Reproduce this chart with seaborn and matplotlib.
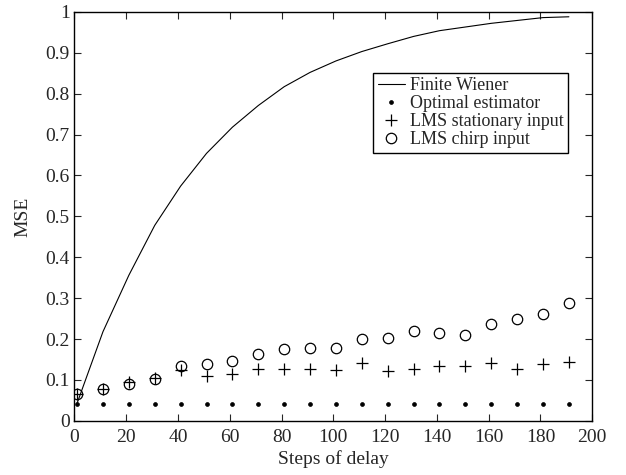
import pandas as pd
import matplotlib
matplotlib.use('Agg')
import matplotlib.pyplot as plt
import seaborn as sns

# Set seaborn style
sns.set_style('ticks')
plt.rcParams['font.family'] = ['Liberation Serif', 'DejaVu Serif']
plt.rcParams['xtick.direction'] = 'in'
plt.rcParams['ytick.direction'] = 'in'

# Data
delay = [1, 11, 21, 31, 41, 51, 61, 71, 81, 91,
         101, 111, 121, 131, 141, 151, 161, 171, 181, 191]
finite_wiener = [0.043, 0.218, 0.356, 0.478, 0.574, 0.654, 0.718, 0.771, 0.817, 0.852,
                 0.880, 0.903, 0.922, 0.940, 0.954, 0.963, 0.972, 0.979, 0.986, 0.988]
optimal = [0.04] * 20
lms_stationary = [0.065, 0.079, 0.094, 0.105, 0.124, 0.110, 0.114, 0.128, 0.128, 0.128,
                  0.124, 0.142, 0.123, 0.128, 0.135, 0.135, 0.141, 0.128, 0.138, 0.144]
lms_chirp = [0.065, 0.078, 0.091, 0.103, 0.135, 0.138, 0.146, 0.164, 0.175, 0.178,
             0.178, 0.200, 0.203, 0.220, 0.215, 0.210, 0.236, 0.248, 0.261, 0.287]

df = pd.DataFrame({
    'delay': delay,
    'wiener': finite_wiener,
    'optimal': optimal,
    'stationary': lms_stationary,
    'chirp': lms_chirp,
})

fig = plt.figure(figsize=(6.26, 4.75), dpi=100)
ax = fig.add_axes([0.119, 0.114, 0.827, 0.861])

sns.lineplot(data=df, x='delay', y='wiener', ax=ax, color='black',
             linewidth=0.8, label='Finite Wiener')
sns.lineplot(data=df, x='delay', y='optimal', ax=ax, color='black',
             linestyle='none', marker='o', markersize=2.8, markeredgecolor='black',
             markeredgewidth=0.5, label='Optimal estimator')
sns.lineplot(data=df, x='delay', y='stationary', ax=ax, color='black',
             linestyle='none', marker='+', markersize=8, markeredgecolor='black',
             markeredgewidth=0.9, label='LMS stationary input')
sns.lineplot(data=df, x='delay', y='chirp', ax=ax, color='black',
             linestyle='none', marker='o', markersize=7.5, markerfacecolor='none',
             markeredgecolor='black', markeredgewidth=0.9, label='LMS chirp input')

ax.set_xlim(0, 200)
ax.set_ylim(0, 1)
ax.set_xticks(range(0, 201, 20))
ax.set_yticks([i / 10 for i in range(11)])
ax.set_yticklabels(['0'] + [f'0.{i}' for i in range(1, 10)] + ['1'])
ax.tick_params(top=True, right=True, labelsize=14, length=5, width=0.8)
ax.tick_params(axis='x', pad=6)
ax.set_xlabel('Steps of delay', fontsize=14, labelpad=3)
ax.set_ylabel('MSE', fontsize=14, labelpad=10)
for s in ax.spines.values():
    s.set_linewidth(1.0)
    s.set_color('black')

leg = ax.legend(loc='upper left', bbox_to_anchor=(0.577, 0.851), borderaxespad=0,
                fontsize=13, frameon=True, fancybox=False, framealpha=1,
                edgecolor='black', handlelength=1.5, handletextpad=0.3,
                labelspacing=0.05, borderpad=0.25)
leg.get_frame().set_linewidth(1.0)

fig.savefig('out.png', dpi=100)
